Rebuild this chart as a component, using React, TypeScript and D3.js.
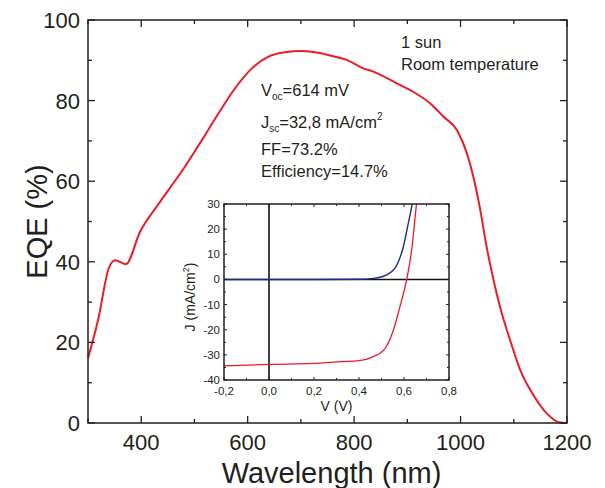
import React from "react";
import * as d3 from "d3";

const eqeWavelength = [300, 319, 339, 351, 371, 398, 429, 451, 482, 514, 545, 576, 608, 639, 670, 702, 733, 764, 786, 817, 836, 880, 911, 943, 968, 993, 1012, 1024, 1037, 1049, 1062, 1074, 1093, 1112, 1137, 1162, 1187, 1200];
const eqeValue = [16.1, 25.6, 38.4, 40.4, 39.4, 47.5, 53.7, 57.8, 63.6, 70.2, 76.8, 83.0, 88.0, 90.9, 92.0, 92.3, 91.9, 90.9, 90.1, 88.0, 87.2, 84.3, 82.2, 79.3, 76.0, 72.7, 66.9, 61.1, 52.9, 43.7, 35.5, 28.9, 20.6, 13.2, 6.9, 2.4, 0.1, 0];

const ivLightV = [-0.2, 0.0, 0.2, 0.32, 0.4, 0.464, 0.516, 0.553, 0.582, 0.612, 0.634, 0.656, 0.67];
const ivLightJ = [-34.4, -33.8, -33.4, -32.7, -32.3, -30.7, -27.4, -20.1, -10.8, 0, 11.7, 30.3, 40];
const ivDarkV = [-0.2, 0.0, 0.2, 0.4, 0.464, 0.523, 0.568, 0.597, 0.619, 0.637, 0.65];
const ivDarkJ = [0, 0, 0, 0.05, 0.4, 1.8, 5.7, 13, 22.3, 30.3, 38];

const mainXTicks = [400, 600, 800, 1000, 1200];
const mainXMinor = [300, 500, 700, 900, 1100];
const mainYTicks = [0, 20, 40, 60, 80, 100];
const mainYMinor = [10, 30, 50, 70, 90];
const insetXTicks = [-0.2, 0, 0.2, 0.4, 0.6, 0.8];
const insetXLabels = ["-0,2", "0,0", "0,2", "0,4", "0,6", "0,8"];
const insetXMinor = [-0.1, 0.1, 0.3, 0.5, 0.7];
const insetYTicks = [-40, -30, -20, -10, 0, 10, 20, 30];
const insetYMinor = [-35, -25, -15, -5, 5, 15, 25];

const FONT = "'Liberation Sans', Arial, Helvetica, sans-serif";
const AX = "#231f20";

export default function App() {
  const x = d3.scaleLinear().domain([300, 1200]).range([88, 567]);
  const y = d3.scaleLinear().domain([0, 100]).range([423, 20]);
  const ix = d3.scaleLinear().domain([-0.2, 0.8]).range([224, 449]);
  const iy = d3.scaleLinear().domain([-40, 30]).range([380, 204]);

  const eqeLine = d3
    .line<number>()
    .x((_, i) => x(eqeWavelength[i]))
    .y((d) => y(d))
    .curve(d3.curveMonotoneX)(eqeValue) as string;
  const lightLine = d3
    .line<number>()
    .x((_, i) => ix(ivLightV[i]))
    .y((d) => iy(d))
    .curve(d3.curveMonotoneX)(ivLightJ) as string;
  const darkLine = d3
    .line<number>()
    .x((_, i) => ix(ivDarkV[i]))
    .y((d) => iy(d))
    .curve(d3.curveMonotoneX)(ivDarkJ) as string;

  const [x0, x1] = x.range();
  const [y0, y1] = y.range();
  const [ix0, ix1] = ix.range();
  const [iy0, iy1] = iy.range();

  return (
    <svg width={605} height={488} style={{ position: "absolute", left: 0, top: 0, background: "#fff" }} fontFamily={FONT}>
      <defs>
        <clipPath id="insetClip">
          <rect x={ix0} y={iy1} width={ix1 - ix0} height={iy0 - iy1} />
        </clipPath>
      </defs>
      {/* main EQE curve */}
      <path d={eqeLine} fill="none" stroke="#ed1c24" strokeWidth={2} />

      {/* main frame */}
      <rect x={x0} y={y1} width={x1 - x0} height={y0 - y1} fill="none" stroke={AX} strokeWidth={1.5} />
      {mainXTicks.map((t) => (
        <g key={"mx" + t}>
          <line x1={x(t)} x2={x(t)} y1={y0} y2={y0 - 7} stroke={AX} strokeWidth={1.3} />
          <line x1={x(t)} x2={x(t)} y1={y1} y2={y1 + 7} stroke={AX} strokeWidth={1.3} />
          <text x={x(t)} y={450} textAnchor="middle" fontSize={22} fill={AX}>{t}</text>
        </g>
      ))}
      {mainXMinor.map((t) => (
        <g key={"mxm" + t}>
          <line x1={x(t)} x2={x(t)} y1={y0} y2={y0 - 4} stroke={AX} strokeWidth={1.3} />
          <line x1={x(t)} x2={x(t)} y1={y1} y2={y1 + 4} stroke={AX} strokeWidth={1.3} />
        </g>
      ))}
      {mainYTicks.map((t) => (
        <g key={"my" + t}>
          <line x1={x0} x2={x0 + 7} y1={y(t)} y2={y(t)} stroke={AX} strokeWidth={1.3} />
          <line x1={x1} x2={x1 - 7} y1={y(t)} y2={y(t)} stroke={AX} strokeWidth={1.3} />
          <text x={80} y={y(t) + 8} textAnchor="end" fontSize={22} fill={AX}>{t}</text>
        </g>
      ))}
      {mainYMinor.map((t) => (
        <g key={"mym" + t}>
          <line x1={x0} x2={x0 + 4} y1={y(t)} y2={y(t)} stroke={AX} strokeWidth={1.3} />
          <line x1={x1} x2={x1 - 4} y1={y(t)} y2={y(t)} stroke={AX} strokeWidth={1.3} />
        </g>
      ))}
      <text x={(x0 + x1) / 2 + 4} y={483} textAnchor="middle" fontSize={29} fill={AX}>Wavelength (nm)</text>
      <text transform={`translate(47,${(y0 + y1) / 2}) rotate(-90)`} textAnchor="middle" fontSize={29} fill={AX}>EQE (%)</text>

      {/* annotations */}
      <g fontSize={16.5} fill={AX}>
        <text x={401} y={48}>1 sun</text>
        <text x={401} y={70}>Room temperature</text>
        <text x={261} y={96}>V<tspan fontSize={10} dy={4}>oc</tspan><tspan dy={-4}>=614 mV</tspan></text>
        <text x={261} y={128}>J<tspan fontSize={10} dy={4}>sc</tspan><tspan dy={-4}>=32,8 mA/cm</tspan><tspan fontSize={10} dy={-8}>2</tspan></text>
        <text x={261} y={155}>FF=73.2%</text>
        <text x={261} y={177}>Efficiency=14.7%</text>
      </g>

      {/* inset */}
      <rect x={ix0} y={iy1} width={ix1 - ix0} height={iy0 - iy1} fill="#fff" />
      <g clipPath="url(#insetClip)">
        <line x1={ix0} x2={ix1} y1={iy(0)} y2={iy(0)} stroke="#111" strokeWidth={1.6} />
        <line x1={ix(0)} x2={ix(0)} y1={iy0} y2={iy1} stroke="#111" strokeWidth={1.6} />
        <path d={darkLine} fill="none" stroke="#1f2a8c" strokeWidth={1.4} />
        <path d={lightLine} fill="none" stroke="#ed1c24" strokeWidth={1.3} />
      </g>
      <rect x={ix0} y={iy1} width={ix1 - ix0} height={iy0 - iy1} fill="none" stroke={AX} strokeWidth={1.5} />
      {insetXTicks.map((t, i) => (
        <g key={"ix" + i}>
          <line x1={ix(t)} x2={ix(t)} y1={iy0} y2={iy0 - 3} stroke={AX} strokeWidth={1} />
          <line x1={ix(t)} x2={ix(t)} y1={iy1} y2={iy1 + 3} stroke={AX} strokeWidth={1} />
          <text x={ix(t)} y={395} textAnchor="middle" fontSize={11.5} fill={AX}>{insetXLabels[i]}</text>
        </g>
      ))}
      {insetXMinor.map((t, i) => (
        <g key={"ixm" + i}>
          <line x1={ix(t)} x2={ix(t)} y1={iy0} y2={iy0 - 2} stroke={AX} strokeWidth={1} />
          <line x1={ix(t)} x2={ix(t)} y1={iy1} y2={iy1 + 2} stroke={AX} strokeWidth={1} />
        </g>
      ))}
      {insetYTicks.map((t) => (
        <g key={"iy" + t}>
          <line x1={ix0} x2={ix0 + 3} y1={iy(t)} y2={iy(t)} stroke={AX} strokeWidth={1} />
          <line x1={ix1} x2={ix1 - 3} y1={iy(t)} y2={iy(t)} stroke={AX} strokeWidth={1} />
          <text x={220} y={iy(t) + 4} textAnchor="end" fontSize={11.5} fill={AX}>{t}</text>
        </g>
      ))}
      {insetYMinor.map((t) => (
        <g key={"iym" + t}>
          <line x1={ix0} x2={ix0 + 2} y1={iy(t)} y2={iy(t)} stroke={AX} strokeWidth={1} />
          <line x1={ix1} x2={ix1 - 2} y1={iy(t)} y2={iy(t)} stroke={AX} strokeWidth={1} />
        </g>
      ))}
      <text x={(ix0 + ix1) / 2} y={411} textAnchor="middle" fontSize={14} fill={AX}>V (V)</text>
      <text transform={`translate(195,${iy(-7)}) rotate(-90)`} textAnchor="middle" fontSize={14} fill={AX}>
        J (mA/cm<tspan fontSize={9} dy={-6}>2</tspan><tspan dy={6}>)</tspan>
      </text>
    </svg>
  );
}
